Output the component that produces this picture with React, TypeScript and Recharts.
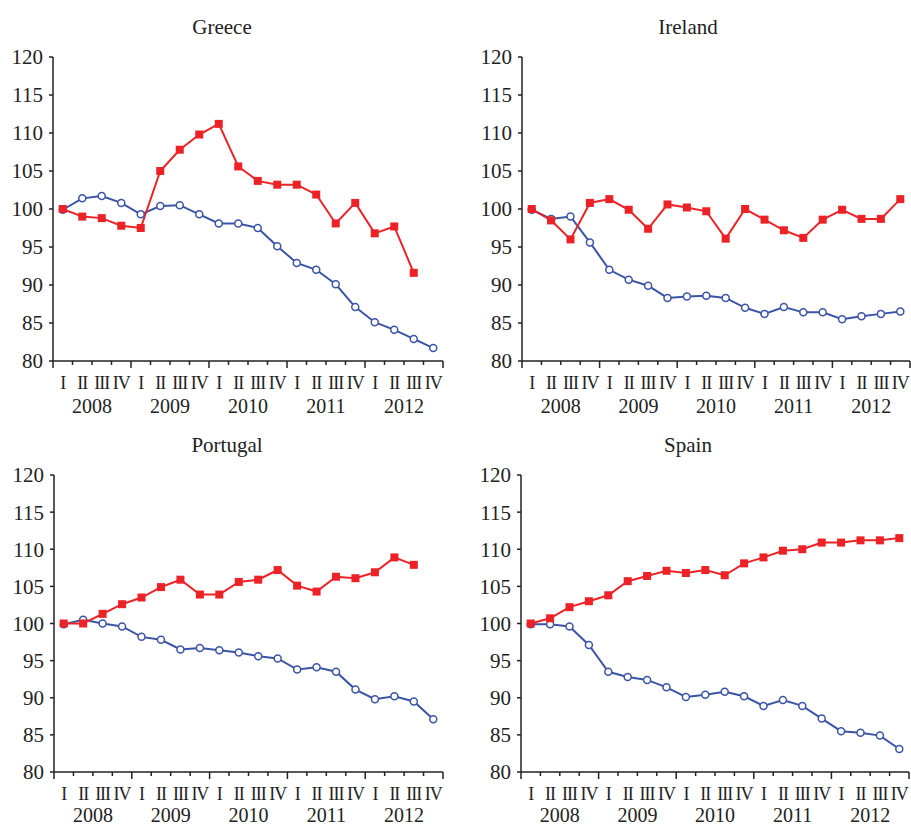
import { LineChart, Line, XAxis, YAxis } from 'recharts'

const years = ['2008', '2009', '2010', '2011', '2012']
const quarters = ['I', 'II', 'III', 'IV']
const yTicks = [80, 85, 90, 95, 100, 105, 110, 115, 120]

// red squares
const greeceSquare = [100.0, 99.0, 98.8, 97.8, 97.5, 105.0, 107.8, 109.8, 111.2, 105.6, 103.7, 103.2, 103.2, 101.9, 98.1, 100.8, 96.8, 97.7, 91.6, null]
const irelandSquare = [100.0, 98.5, 96.0, 100.8, 101.3, 99.9, 97.4, 100.6, 100.2, 99.7, 96.1, 100.0, 98.6, 97.2, 96.2, 98.6, 99.9, 98.7, 98.7, 101.3]
const portugalSquare = [100.0, 100.0, 101.3, 102.6, 103.5, 104.9, 105.9, 103.9, 103.9, 105.6, 105.9, 107.2, 105.1, 104.3, 106.3, 106.1, 106.9, 108.9, 107.9, null]
const spainSquare = [100.0, 100.7, 102.2, 103.0, 103.8, 105.7, 106.4, 107.1, 106.8, 107.2, 106.5, 108.1, 108.9, 109.8, 110.0, 110.9, 110.9, 111.2, 111.2, 111.5]

// blue open circles
const greeceCircle = [99.9, 101.4, 101.7, 100.8, 99.3, 100.4, 100.5, 99.3, 98.1, 98.1, 97.5, 95.1, 92.9, 92.0, 90.1, 87.1, 85.1, 84.1, 82.9, 81.7]
const irelandCircle = [99.9, 98.7, 99.0, 95.6, 92.0, 90.7, 89.9, 88.3, 88.5, 88.6, 88.3, 87.0, 86.2, 87.1, 86.4, 86.4, 85.5, 85.9, 86.2, 86.5]
const portugalCircle = [99.9, 100.5, 100.0, 99.6, 98.2, 97.8, 96.5, 96.7, 96.4, 96.1, 95.6, 95.3, 93.8, 94.1, 93.5, 91.1, 89.8, 90.2, 89.5, 87.1]
const spainCircle = [99.9, 99.9, 99.6, 97.1, 93.5, 92.8, 92.4, 91.4, 90.1, 90.4, 90.8, 90.2, 88.9, 89.7, 88.9, 87.2, 85.5, 85.3, 84.9, 83.1]

const RED = '#ec2227'
const BLUE = '#3b54a5'
const INK = '#222'
const FONT = "'Liberation Serif', 'Times New Roman', serif"

const periods = years.flatMap((y) => quarters.map((q) => `${q} ${y}`))
const boundaries = Array.from({ length: periods.length + 1 }, (_, i) => i)

const panels = [
  { title: 'Greece', squares: greeceSquare, circles: greeceCircle, left: 0, top: 0, width: 450, height: 420, mTop: 57, mRight: 7, yW: 53, xH: 59, yearDy: 52, titleX: 222, titleY: 27 },
  { title: 'Ireland', squares: irelandSquare, circles: irelandCircle, left: 460, top: 0, width: 451, height: 420, mTop: 57, mRight: 1, yW: 62, xH: 59, yearDy: 52, titleX: 688, titleY: 27 },
  { title: 'Portugal', squares: portugalSquare, circles: portugalCircle, left: 0, top: 420, width: 450, height: 405, mTop: 55, mRight: 7, yW: 54, xH: 53, yearDy: 50, titleX: 227, titleY: 445 },
  { title: 'Spain', squares: spainSquare, circles: spainCircle, left: 460, top: 420, width: 451, height: 405, mTop: 55, mRight: 2, yW: 61, xH: 53, yearDy: 50, titleX: 688, titleY: 445 },
]

const SquareDot = ({ cx, cy, index }: any) => {
  if (cx == null || cy == null) return null
  return <rect key={index} x={cx - 4} y={cy - 4} width={8} height={8} fill={RED} />
}

const QuarterTick = ({ x, y, payload, band, yearDy }: any) => {
  const k = payload.value
  const isYear = k % 4 === 0
  return (
    <g>
      <line x1={x} y1={y} x2={x} y2={y + (isYear ? 7 : 4)} stroke={INK} strokeWidth={1.5} />
      {k < periods.length && (
        <text x={x + band / 2} y={y + 28} textAnchor="middle" fontSize={18} letterSpacing={-1} fill={INK}>
          {quarters[k % 4]}
        </text>
      )}
      {isYear && k < periods.length && (
        <text x={x + band * 2} y={y + yearDy} textAnchor="middle" fontSize={20} fill={INK}>
          {years[k / 4]}
        </text>
      )}
    </g>
  )
}

function Panel({ p }: { p: (typeof panels)[number] }) {
  const data = periods.map((period, i) => ({
    period,
    pos: i + 0.5,
    square: p.squares[i],
    circle: p.circles[i],
  }))
  const band = (p.width - p.yW - p.mRight) / periods.length

  return (
    <div style={{ position: 'absolute', left: p.left, top: p.top }}>
      <LineChart
        width={p.width}
        height={p.height}
        data={data}
        margin={{ top: p.mTop, right: p.mRight, left: 0, bottom: 0 }}
      >
        <XAxis
          type="number"
          dataKey="pos"
          domain={[0, periods.length]}
          ticks={boundaries}
          interval={0}
          height={p.xH}
          tickSize={0}
          tickMargin={0}
          tickLine={false}
          axisLine={{ stroke: INK, strokeWidth: 1.5 }}
          tick={<QuarterTick band={band} yearDy={p.yearDy} />}
        />
        <YAxis
          type="number"
          domain={[80, 120]}
          ticks={yTicks}
          interval={0}
          width={p.yW}
          tickSize={4}
          tickMargin={6}
          axisLine={{ stroke: INK, strokeWidth: 1.5 }}
          tickLine={{ stroke: INK, strokeWidth: 1.5 }}
          tick={{ fill: INK, fontSize: 21 }}
        />
        <Line
          dataKey="circle"
          stroke={BLUE}
          strokeWidth={2}
          dot={{ r: 3.5, fill: '#fff', stroke: BLUE, strokeWidth: 1.5 }}
          isAnimationActive={false}
        />
        <Line
          dataKey="square"
          stroke={RED}
          strokeWidth={2}
          dot={<SquareDot />}
          isAnimationActive={false}
        />
      </LineChart>
    </div>
  )
}

export default function App() {
  return (
    <div
      style={{
        position: 'absolute',
        left: 0,
        top: 0,
        width: 911,
        height: 825,
        background: '#fff',
        fontFamily: FONT,
      }}
    >
      {panels.map((p) => (
        <Panel key={p.title} p={p} />
      ))}
      {panels.map((p) => (
        <div
          key={p.title + '-title'}
          style={{
            position: 'absolute',
            left: p.titleX - 100,
            top: p.titleY - 12,
            width: 200,
            textAlign: 'center',
            fontSize: 21,
            lineHeight: '24px',
            color: INK,
          }}
        >
          {p.title}
        </div>
      ))}
    </div>
  )
}
